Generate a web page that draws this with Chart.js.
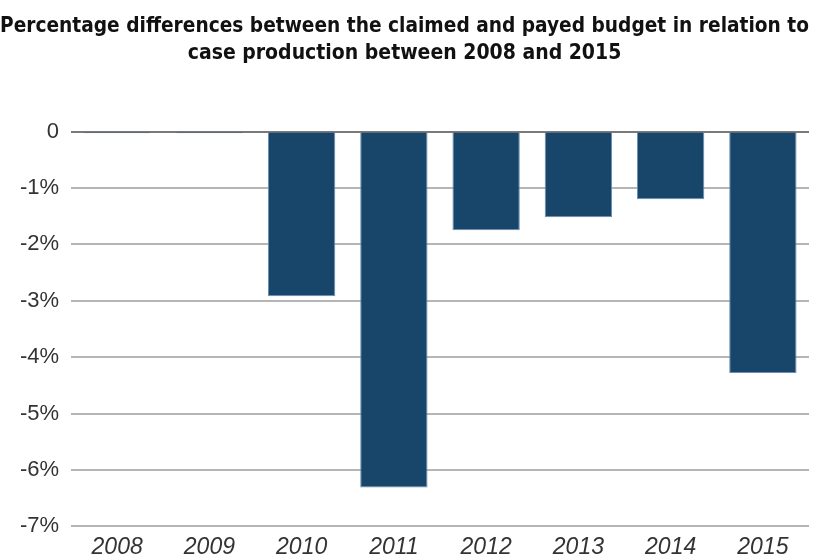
<!DOCTYPE html>
<html>
<head>
<meta charset="utf-8">
<script src="https://cdn.jsdelivr.net/npm/chart.js@4.4.1/dist/chart.umd.min.js"></script>
<style>
  html, body { margin: 0; padding: 0; background: #fff; overflow: hidden; }
  #wrap { width: 817px; height: 568px; }
</style>
</head>
<body>
<div id="wrap"><canvas id="grafico" width="817" height="568"></canvas></div>
<script>
// datos (porcentaje)
const years = ["2008", "2009", "2010", "2011", "2012", "2013", "2014", "2015"];
const diffs = [-0.03, -0.03, -2.92, -6.31, -1.75, -1.52, -1.2, -4.28];
const titleLines = [
  "Percentage differences between the claimed and payed budget in relation to",
  "case production between 2008 and 2015"
];

const ctx = document.getElementById("grafico").getContext("2d");
new Chart(ctx, {
  type: "bar",
  data: {
    labels: years,
    datasets: [{
      data: diffs,
      backgroundColor: "#18466b",
      borderColor: "#6a8fb0",
      borderWidth: 1,
      barPercentage: 0.73,
      categoryPercentage: 1
    }]
  },
  options: {
    responsive: false,
    animation: false,
    layout: { padding: { left: 0, right: 8, top: 0, bottom: 0 } },
    plugins: {
      legend: { display: false },
      tooltip: { enabled: false },
      title: {
        display: true,
        text: titleLines,
        color: "#111",
        font: { family: "'DejaVu Sans Condensed', 'Liberation Sans'", size: 21, weight: "bold", lineHeight: 1.3 },
        padding: { top: 13, bottom: 64 }
      }
    },
    scales: {
      x: {
        grid: { display: false, drawTicks: false },
        border: { display: false },
        ticks: {
          color: "#333",
          padding: 7,
          font: { family: "'Liberation Sans'", size: 23, style: "italic" }
        }
      },
      y: {
        min: -7,
        max: 0,
        afterFit: (s) => { s.width = 71; },
        border: { display: false },
        grid: {
          drawTicks: false,
          lineWidth: 2,
          color: (c) => c.tick && c.tick.value === 0 ? "#7a7a7a" : "#b5b5b5"
        },
        ticks: {
          stepSize: 1,
          color: "#333",
          padding: 12,
          font: { family: "'Liberation Sans'", size: 22 },
          callback: (v) => v === 0 ? "0" : v + "%"
        }
      }
    }
  }
});
</script>
</body>
</html>
